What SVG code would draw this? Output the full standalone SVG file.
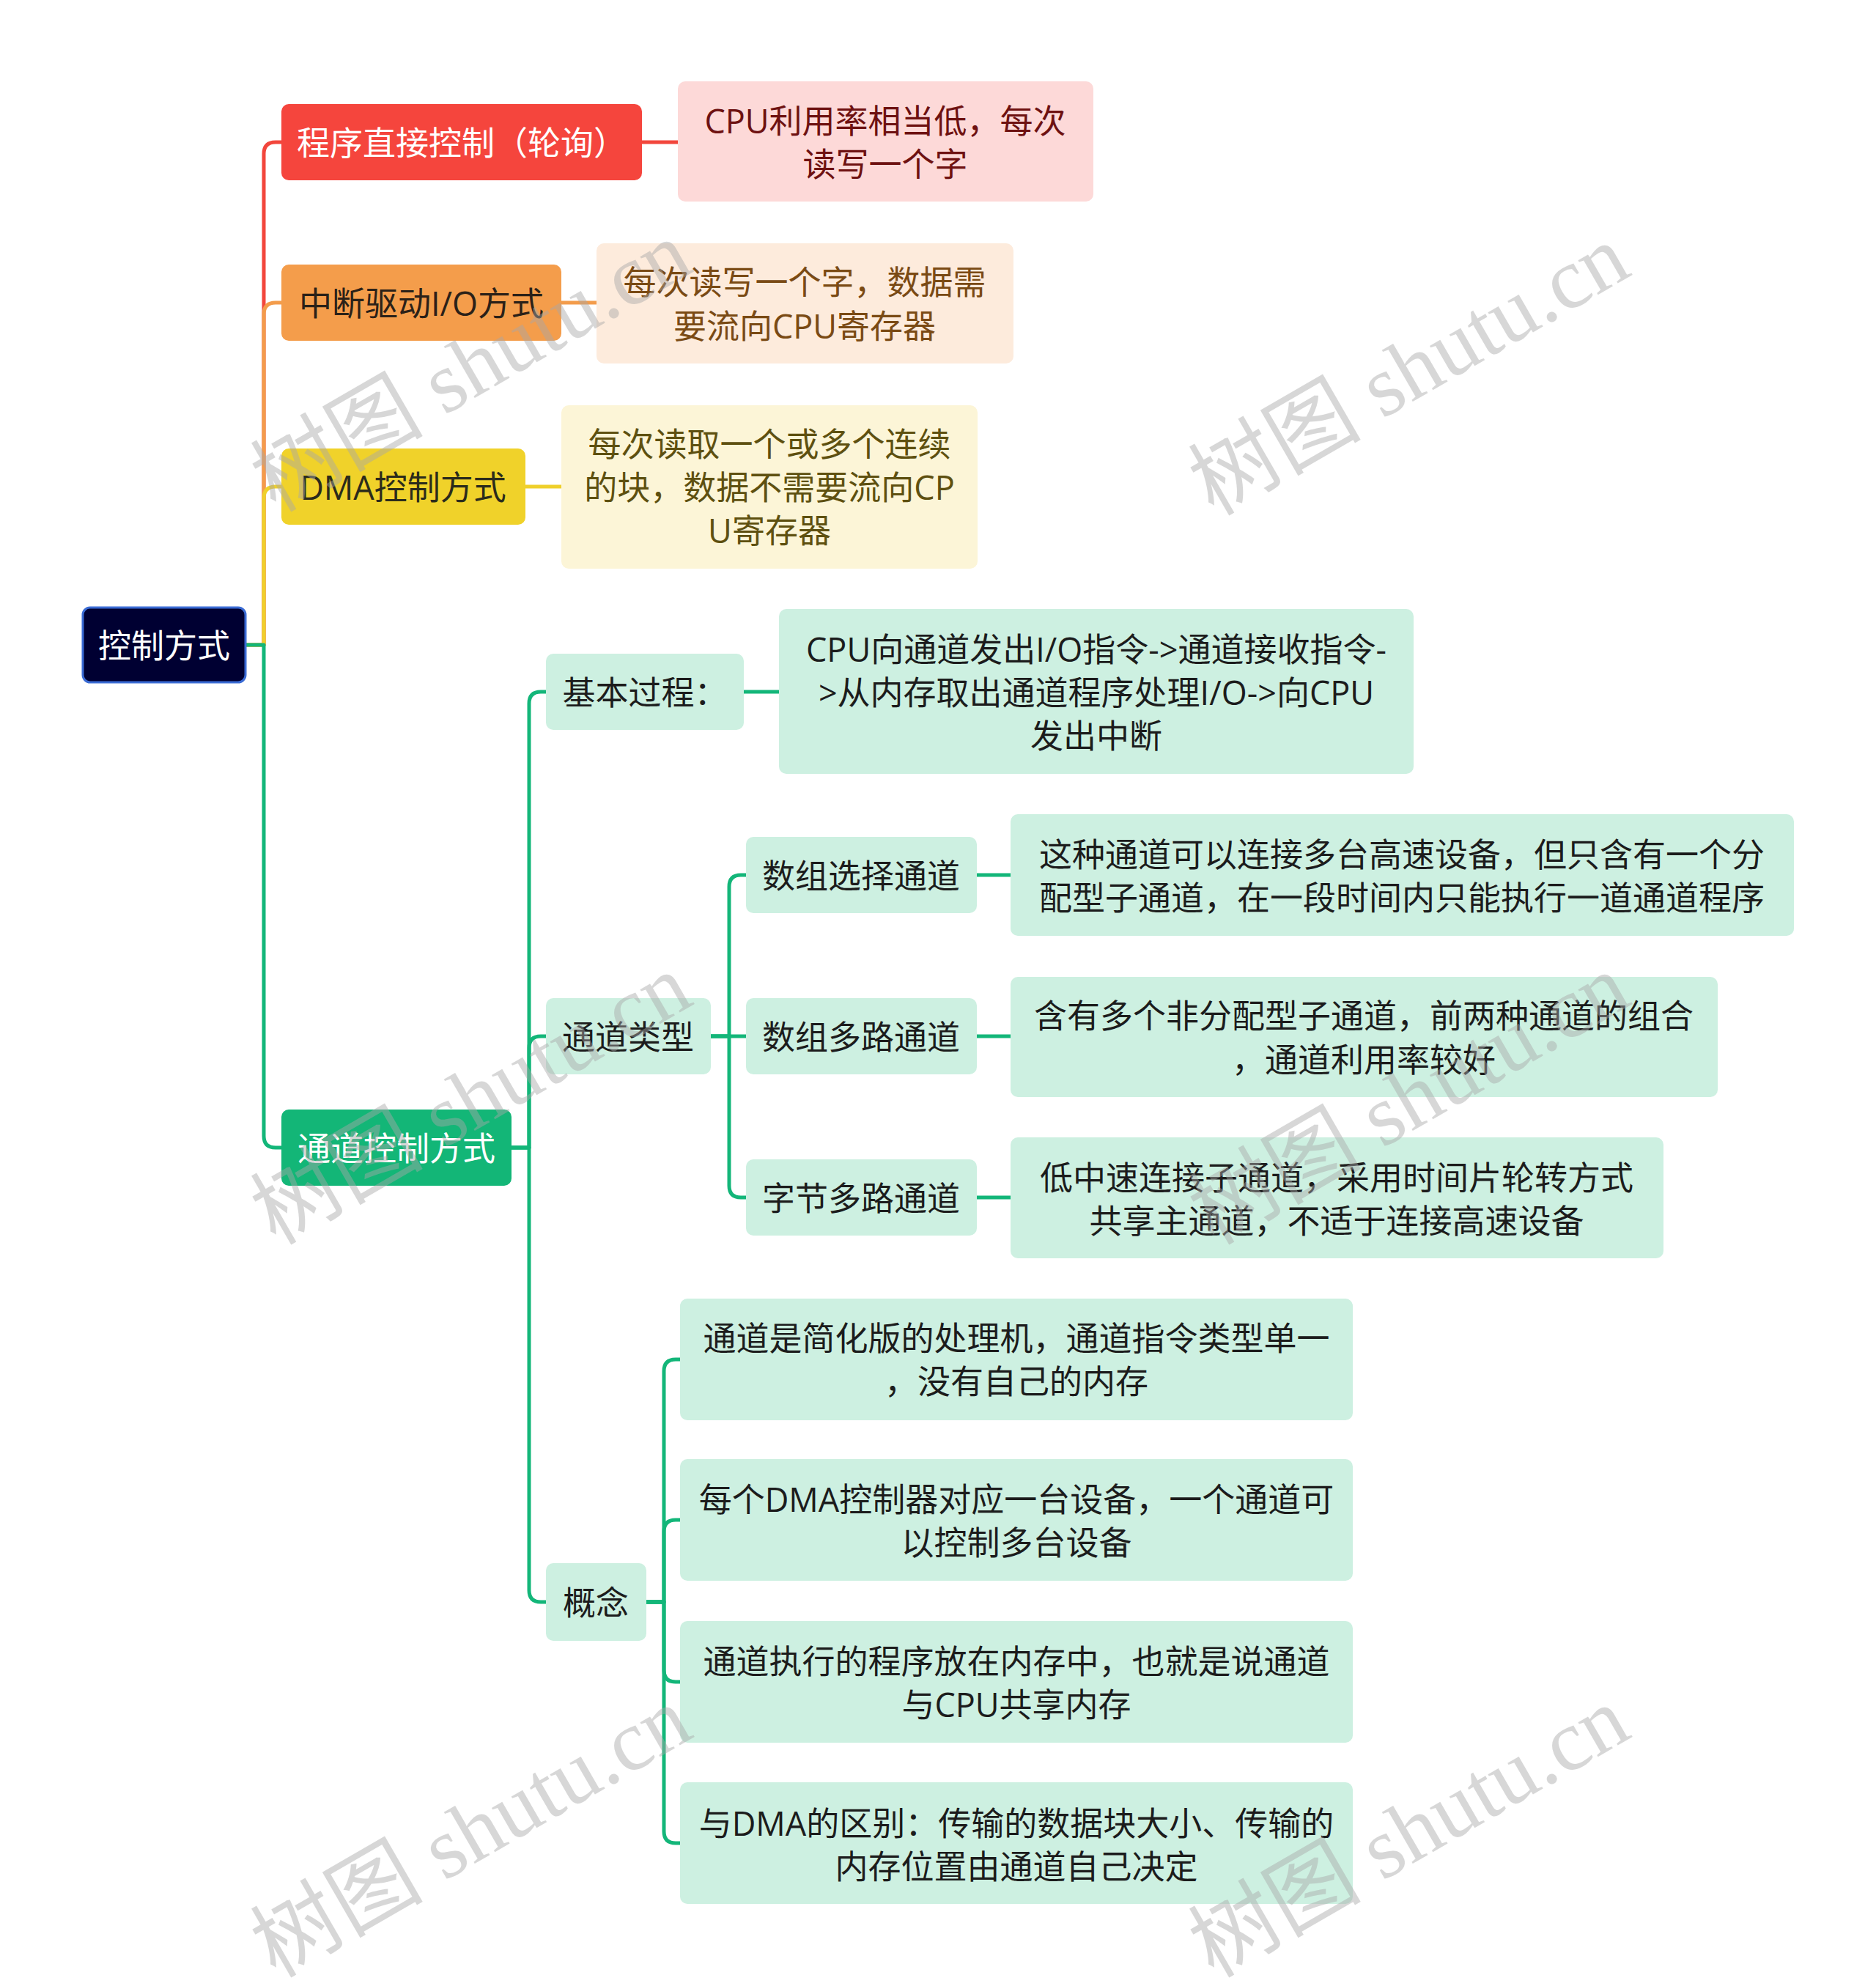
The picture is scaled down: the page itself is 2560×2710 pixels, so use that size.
<svg xmlns="http://www.w3.org/2000/svg" width="2560" height="2710" viewBox="0 0 2560 2710">
<style>
text{font-family:"Open Sans","Noto Sans CJK SC",sans-serif;font-size:45px;text-anchor:middle;dominant-baseline:central}
.ln{fill:none;stroke-width:5;stroke-linecap:butt;stroke-linejoin:round}
.r{stroke:#f2463c}.o{stroke:#f39c4b}.y{stroke:#efd02b}.g{stroke:#13b679}
.gn{fill:#cdf0e1}.gt{fill:#1c1c1c}
.wm{font-family:"Liberation Serif","Noto Sans CJK SC",serif;font-size:118px;text-anchor:start;dominant-baseline:alphabetic;fill:#a8a8a8;opacity:0.45}
</style>
<rect width="2560" height="2710" fill="#ffffff"/>
<g id="connectors">
<path class="ln r" d="M336,880 H360 V210 Q360,194 376,194 H384"/>
<path class="ln o" d="M336,880 H360 V429 Q360,413 376,413 H384"/>
<path class="ln y" d="M336,880 H360 V680 Q360,664 376,664 H384"/>
<path class="ln g" d="M336,880 H360 V1550 Q360,1566 376,1566 H384"/>
<path class="ln r" d="M876,194 H925"/>
<path class="ln o" d="M766,413 H814"/>
<path class="ln y" d="M717,664 H766"/>
<path class="ln g" d="M698,1566 H722 V960 Q722,944 738,944 H745"/>
<path class="ln g" d="M698,1566 H722 V1430 Q722,1414 738,1414 H745"/>
<path class="ln g" d="M698,1566 H722 V2170 Q722,2186 738,2186 H745"/>
<path class="ln g" d="M1015,944 H1063"/>
<path class="ln g" d="M970,1414 H995 V1210 Q995,1194 1011,1194 H1018"/>
<path class="ln g" d="M970,1414 H1018"/>
<path class="ln g" d="M970,1414 H995 V1618 Q995,1634 1011,1634 H1018"/>
<path class="ln g" d="M1333,1194 H1379"/>
<path class="ln g" d="M1333,1414 H1379"/>
<path class="ln g" d="M1333,1634 H1379"/>
<path class="ln g" d="M882,2186 H906 V1871 Q906,1855 922,1855 H928"/>
<path class="ln g" d="M882,2186 H906 V2090 Q906,2074 922,2074 H928"/>
<path class="ln g" d="M882,2186 H906 V2279 Q906,2295 922,2295 H928"/>
<path class="ln g" d="M882,2186 H906 V2499 Q906,2515 922,2515 H928"/>
</g>
<g id="root">
<rect x="113" y="829" width="222" height="102" rx="10" fill="#000032" stroke="#3a6bd4" stroke-width="3"/>
<text x="224" y="880" fill="#ffffff">控制方式</text>
</g>
<g id="n-polling">
<rect x="384" y="142" width="492" height="104" rx="10" fill="#f5453d"/>
<text x="630" y="194" fill="#ffffff">程序直接控制（轮询）</text>
</g>
<g id="l-polling">
<rect x="925" y="111" width="567" height="164" rx="10" fill="#fdd9d8"/>
<text x="1208" y="164" fill="#6e1111">CPU利用率相当低，每次</text>
<text x="1208" y="223" fill="#6e1111">读写一个字</text>
</g>
<g id="n-interrupt">
<rect x="384" y="361" width="382" height="104" rx="10" fill="#f49d4b"/>
<text x="575" y="413" fill="#2b2118">中断驱动I/O方式</text>
</g>
<g id="l-interrupt">
<rect x="814" y="332" width="569" height="164" rx="10" fill="#fdebdc"/>
<text x="1098" y="384" fill="#7a4a14">每次读写一个字，数据需</text>
<text x="1098" y="444" fill="#7a4a14">要流向CPU寄存器</text>
</g>
<g id="n-dma">
<rect x="384" y="612" width="333" height="104" rx="10" fill="#f0d22a"/>
<text x="550" y="664" fill="#2b2b1b">DMA控制方式</text>
</g>
<g id="l-dma">
<rect x="766" y="553" width="568" height="223" rx="10" fill="#fcf5d7"/>
<text x="1050" y="605" fill="#5e5010">每次读取一个或多个连续</text>
<text x="1050" y="664" fill="#5e5010">的块，数据不需要流向CP</text>
<text x="1050" y="723" fill="#5e5010">U寄存器</text>
</g>
<g id="n-channel">
<rect x="384" y="1514" width="314" height="104" rx="10" fill="#13b677"/>
<text x="541" y="1566" fill="#ffffff">通道控制方式</text>
</g>
<g id="n-basic">
<rect class="gn" x="745" y="892" width="270" height="104" rx="10"/>
<text class="gt" x="880" y="944">基本过程：</text>
</g>
<g id="l-basic">
<rect class="gn" x="1063" y="831" width="866" height="225" rx="10"/>
<text class="gt" x="1496" y="885">CPU向通道发出I/O指令-&gt;通道接收指令-</text>
<text class="gt" x="1496" y="944">&gt;从内存取出通道程序处理I/O-&gt;向CPU</text>
<text class="gt" x="1496" y="1003">发出中断</text>
</g>
<g id="n-types">
<rect class="gn" x="745" y="1362" width="225" height="104" rx="10"/>
<text class="gt" x="857" y="1414">通道类型</text>
</g>
<g id="n-select">
<rect class="gn" x="1018" y="1142" width="315" height="104" rx="10"/>
<text class="gt" x="1175" y="1194">数组选择通道</text>
</g>
<g id="l-select">
<rect class="gn" x="1379" y="1111" width="1069" height="166" rx="10"/>
<text class="gt" x="1913" y="1165">这种通道可以连接多台高速设备，但只含有一个分</text>
<text class="gt" x="1913" y="1224">配型子通道，在一段时间内只能执行一道通道程序</text>
</g>
<g id="n-blockmux">
<rect class="gn" x="1018" y="1362" width="315" height="104" rx="10"/>
<text class="gt" x="1175" y="1414">数组多路通道</text>
</g>
<g id="l-blockmux">
<rect class="gn" x="1379" y="1333" width="965" height="164" rx="10"/>
<text class="gt" x="1861" y="1385">含有多个非分配型子通道，前两种通道的组合</text>
<text class="gt" x="1861" y="1445">，通道利用率较好</text>
</g>
<g id="n-bytemux">
<rect class="gn" x="1018" y="1582" width="315" height="104" rx="10"/>
<text class="gt" x="1175" y="1634">字节多路通道</text>
</g>
<g id="l-bytemux">
<rect class="gn" x="1379" y="1552" width="891" height="165" rx="10"/>
<text class="gt" x="1824" y="1606">低中速连接子通道，采用时间片轮转方式</text>
<text class="gt" x="1824" y="1665">共享主通道，不适于连接高速设备</text>
</g>
<g id="n-concept">
<rect class="gn" x="745" y="2133" width="137" height="106" rx="10"/>
<text class="gt" x="813" y="2186">概念</text>
</g>
<g id="l-c1">
<rect class="gn" x="928" y="1772" width="918" height="166" rx="10"/>
<text class="gt" x="1387" y="1825">通道是简化版的处理机，通道指令类型单一</text>
<text class="gt" x="1387" y="1884">，没有自己的内存</text>
</g>
<g id="l-c2">
<rect class="gn" x="928" y="1991" width="918" height="166" rx="10"/>
<text class="gt" x="1387" y="2045">每个DMA控制器对应一台设备，一个通道可</text>
<text class="gt" x="1387" y="2104">以控制多台设备</text>
</g>
<g id="l-c3">
<rect class="gn" x="928" y="2212" width="918" height="166" rx="10"/>
<text class="gt" x="1387" y="2266">通道执行的程序放在内存中，也就是说通道</text>
<text class="gt" x="1387" y="2325">与CPU共享内存</text>
</g>
<g id="l-c4">
<rect class="gn" x="928" y="2432" width="918" height="166" rx="10"/>
<text class="gt" x="1387" y="2487">与DMA的区别：传输的数据块大小、传输的</text>
<text class="gt" x="1387" y="2546">内存位置由通道自己决定</text>
</g>
<g id="watermarks">
<text class="wm" x="376" y="700" transform="rotate(-30 376 700)">树图 shutu.cn</text>
<text class="wm" x="1656" y="705" transform="rotate(-30 1656 705)">树图 shutu.cn</text>
<text class="wm" x="376" y="1700" transform="rotate(-30 376 1700)">树图 shutu.cn</text>
<text class="wm" x="1656" y="1700" transform="rotate(-30 1656 1700)">树图 shutu.cn</text>
<text class="wm" x="376" y="2700" transform="rotate(-30 376 2700)">树图 shutu.cn</text>
<text class="wm" x="1656" y="2700" transform="rotate(-30 1656 2700)">树图 shutu.cn</text>
</g>
</svg>
